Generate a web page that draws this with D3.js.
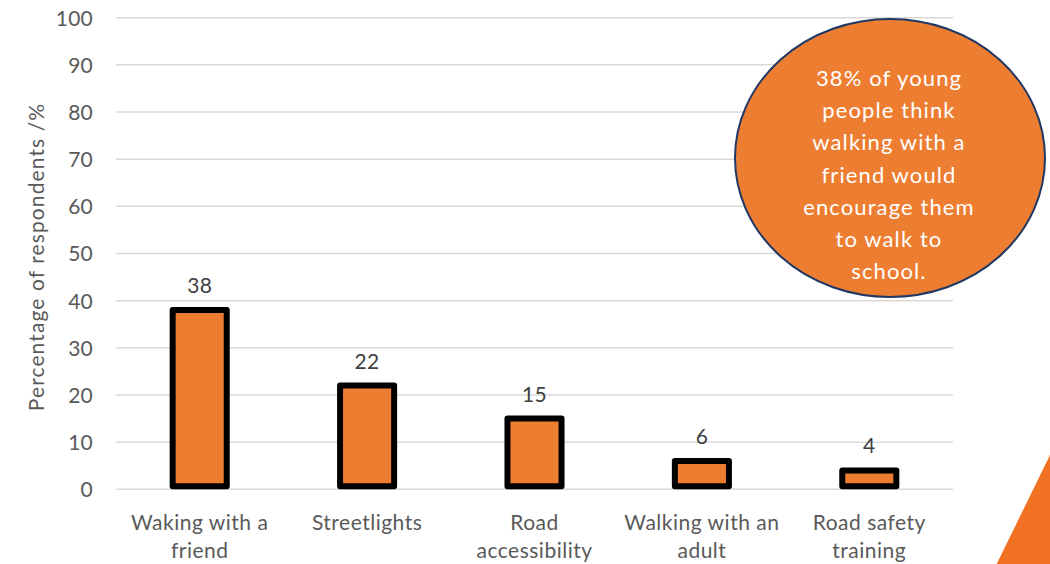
<!DOCTYPE html>
<html>
<head>
<meta charset="utf-8">
<script src="https://cdn.jsdelivr.net/npm/d3@7"></script>
<style>
  html, body { margin: 0; padding: 0; background: #fff; }
  svg { display: block; font-family: Lato, "Open Sans", sans-serif; }
</style>
</head>
<body>
<svg id="chart" width="1050" height="564"></svg>
<script>
const categories = [["Waking with a", "friend"], ["Streetlights"], ["Road", "accessibility"], ["Walking with an", "adult"], ["Road safety", "training"]];
const values = [38, 22, 15, 6, 4];
const yTicks = [0, 10, 20, 30, 40, 50, 60, 70, 80, 90, 100];
const yTitle = "Percentage of respondents /%";
const calloutLines = ["38% of young", "people think", "walking with a", "friend would", "encourage them", "to walk to", "school."];

const svg = d3.select("#chart");
const M = { left: 116, right: 953, top: 17.7, bottom: 489.3 };
const grey = "#595959";

const x = d3.scaleBand().domain(d3.range(values.length)).range([M.left, M.right]).paddingInner(0.677).paddingOuter(0.3385);
const y = d3.scaleLinear().domain([0, 100]).range([M.bottom, M.top]);

// gridlines
svg.append("g").selectAll("line").data(yTicks).join("line")
  .attr("x1", M.left).attr("x2", M.right)
  .attr("y1", d => y(d)).attr("y2", d => y(d))
  .attr("stroke", "#d9d9d9").attr("stroke-width", 1.5);

// y axis tick labels
const yAxis = d3.axisLeft(y).tickValues(yTicks).tickSize(0).tickPadding(0);
const gy = svg.append("g").attr("transform", "translate(93,0)").call(yAxis);
gy.select(".domain").remove();
gy.selectAll("text").attr("fill", grey).attr("font-size", 21).attr("font-family", "Lato, sans-serif").attr("dy", "0.35em").attr("letter-spacing", 0.2);

// y title
svg.append("text").attr("transform", `translate(44,257) rotate(-90)`)
  .attr("text-anchor", "middle").attr("fill", grey).attr("font-size", 21).attr("letter-spacing", 1.1).text(yTitle);

// bars
svg.append("g").selectAll("rect").data(values).join("rect")
  .attr("x", (d, i) => x(i)).attr("width", x.bandwidth())
  .attr("y", d => y(d)).attr("height", d => y(0) - y(d) - 3)
  .attr("fill", "#ED7D31").attr("stroke", "#000").attr("stroke-width", 6)
  .attr("stroke-linejoin", "round");

// value labels
svg.append("g").selectAll("text").data(values).join("text")
  .attr("x", (d, i) => x(i) + x.bandwidth() / 2).attr("y", d => y(d) - 17)
  .attr("text-anchor", "middle").attr("fill", "#404040").attr("font-size", 21).attr("letter-spacing", 0.3).text(d => d);

// x labels
const xl = svg.append("g").selectAll("text").data(categories).join("text")
  .attr("x", (d, i) => x(i) + x.bandwidth() / 2).attr("y", 530)
  .attr("text-anchor", "middle").attr("fill", grey).attr("font-size", 21).attr("letter-spacing", 0.5);
xl.selectAll("tspan").data(d => d).join("tspan")
  .attr("x", function () { return d3.select(this.parentNode).attr("x"); })
  .attr("dy", (d, i) => i === 0 ? 0 : 28).text(d => d);

// callout ellipse
svg.append("ellipse").attr("cx", 890).attr("cy", 158).attr("rx", 155).attr("ry", 139)
  .attr("fill", "#ED7D31").attr("stroke", "#1F3864").attr("stroke-width", 2);
svg.append("g").selectAll("text").data(calloutLines).join("text")
  .attr("x", 889).attr("y", (d, i) => 86 + i * 32.2)
  .attr("text-anchor", "middle").attr("fill", "#fff").attr("font-size", 22).attr("letter-spacing", 1.1).text(d => d);

// decorative triangle
svg.append("path").attr("d", d3.line()([[1050, 455], [1050, 564], [996.7, 564]]) + "Z")
  .attr("fill", "#F07121");
</script>
</body>
</html>
